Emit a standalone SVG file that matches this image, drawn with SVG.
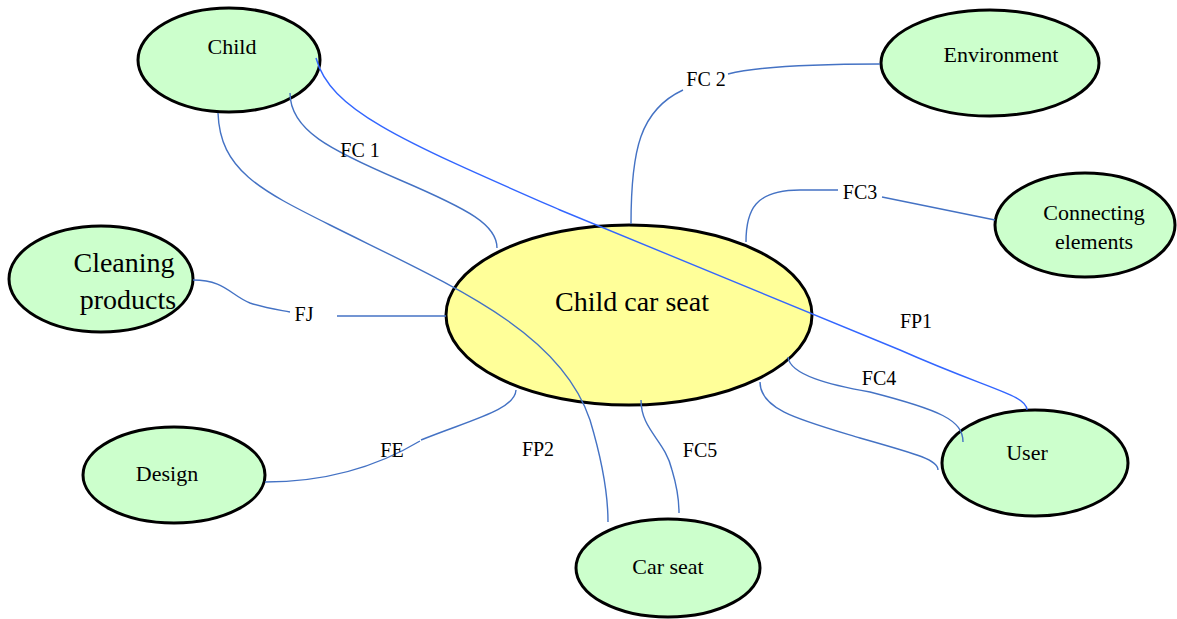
<svg xmlns="http://www.w3.org/2000/svg" width="1177" height="619" viewBox="0 0 1177 619">
<style>
.n{fill:#ccffcc;stroke:#000;stroke-width:3}
.c{fill:#ffff99;stroke:#000;stroke-width:3}
.t{font-family:'Liberation Serif','Times New Roman',serif;font-size:22px;fill:#000;text-anchor:middle}
.big{font-size:28px}
.l{font-family:'Liberation Serif','Times New Roman',serif;font-size:20px;fill:#000;text-anchor:middle}
.e{fill:none;stroke:#4472c4;stroke-width:1.4}
.b{fill:none;stroke:#3366ff;stroke-width:1.4}
</style>
<rect width="1177" height="619" fill="#fff"/>
<g id="center"><ellipse class="c" cx="629" cy="315" rx="183" ry="90"/><text class="t big" x="632" y="311">Child car seat</text></g>
<g id="child"><ellipse class="n" cx="229" cy="60" rx="91" ry="52"/><text class="t" x="232" y="54">Child</text></g>
<g id="environment"><ellipse class="n" cx="990" cy="63" rx="109" ry="53"/><text class="t" x="1001" y="62">Environment</text></g>
<g id="connecting"><ellipse class="n" cx="1085" cy="225" rx="90" ry="52"/><text class="t" x="1094" y="220">Connecting</text><text class="t" x="1094" y="249">elements</text></g>
<g id="cleaning"><ellipse class="n" cx="101" cy="279" rx="92" ry="53"/><text class="t big" x="124" y="272">Cleaning</text><text class="t big" x="128" y="309">products</text></g>
<g id="design"><ellipse class="n" cx="174" cy="475" rx="91" ry="48"/><text class="t" x="167" y="481">Design</text></g>
<g id="carseat"><ellipse class="n" cx="668" cy="568" rx="92" ry="49"/><text class="t" x="668" y="574">Car seat</text></g>
<g id="user"><ellipse class="n" cx="1035" cy="463" rx="93" ry="53"/><text class="t" x="1027" y="460">User</text></g>
<g id="connectors">
<path class="e" d="M290,93 C290,130 330,150 400,180 C470,210 497,225 497,248"/>
<path class="e" d="M218,113 C220,170 260,190 330,225 C450,285 560,330 590,420 C605,470 608,500 608,522"/>
<path class="b" d="M316,58 C330,110 400,140 560,210 L900,350 C990,390 1027,395 1027,410"/>
<path class="e" d="M631,224 C631,150 640,110 683,90"/>
<path class="e" d="M728,74 C760,66 820,64 880,64"/>
<path class="e" d="M746,242 C746,210 755,190 800,190 L838,190"/>
<path class="e" d="M882,197 L995,220"/>
<path class="e" d="M193,280 C225,280 230,295 250,303 C265,308 280,310 290,312"/>
<path class="e" d="M337,316 L446,316"/>
<path class="e" d="M265,482 C330,482 380,465 420,441"/>
<path class="e" d="M421,440 C470,420 515,410 516,390"/>
<path class="e" d="M641,400 C641,430 665,440 672,470 C678,490 679,505 679,513"/>
<path class="e" d="M788,357 C790,375 830,385 870,392 C940,410 963,420 963,442"/>
<path class="e" d="M760,382 C760,410 800,420 860,438 C920,455 938,460 938,470"/>
<text class="l" x="360" y="157">FC 1</text>
<text class="l" x="706" y="86">FC 2</text>
<text class="l" x="860" y="199">FC3</text>
<text class="l" x="304" y="321">FJ</text>
<text class="l" x="392" y="457">FE</text>
<text class="l" x="538" y="456">FP2</text>
<text class="l" x="700" y="457">FC5</text>
<text class="l" x="879" y="385">FC4</text>
<text class="l" x="916" y="328">FP1</text>
</g>
</svg>
